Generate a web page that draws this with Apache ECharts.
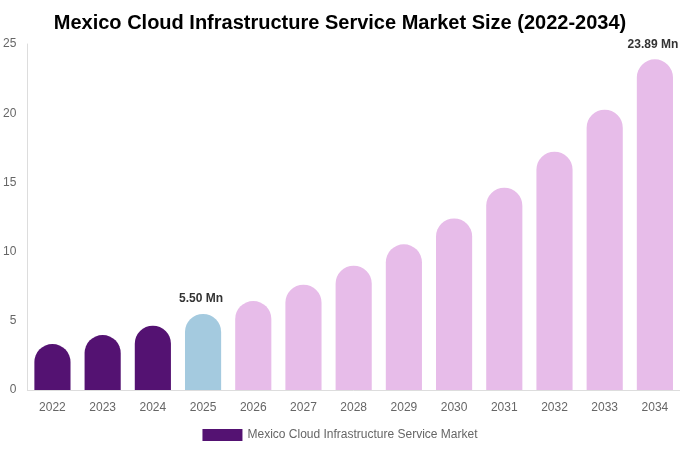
<!DOCTYPE html>
<html>
<head>
<meta charset="utf-8">
<script src="https://cdn.jsdelivr.net/npm/echarts@6/dist/echarts.min.js"></script>
<style>html,body{margin:0;padding:0;background:#fff;}#c{width:680px;height:450px;}</style>
</head>
<body>
<div id="c"></div>
<script>
const categories = ['2022','2023','2024','2025','2026','2027','2028','2029','2030','2031','2032','2033','2034'];
const marketValues = [3.32, 3.97, 4.65, 5.50, 6.43, 7.61, 8.98, 10.53, 12.40, 14.62, 17.22, 20.25, 23.89];
const yTicks = [0, 5, 10, 15, 20, 25];
const seriesName = 'Mexico Cloud Infrastructure Service Market';
const labeledYears = ['2025', '2034'];

const colorHist = '#541272';
const colorBase = '#a4cadf';
const colorFcst = '#e7bce9';

function barColor(year) {
  const y = parseInt(year, 10);
  if (y < 2025) return colorHist;
  if (y === 2025) return colorBase;
  return colorFcst;
}

const data = categories.map((c, i) => ({
  value: marketValues[i],
  itemStyle: { color: barColor(c) },
  label: { show: labeledYears.includes(c) }
}));

const chart = echarts.init(document.getElementById('c'));
chart.setOption({
  animation: false,
  title: {
    text: 'Mexico Cloud Infrastructure Service Market Size (2022-2034)',
    left: 'center',
    top: 8,
    textStyle: { fontFamily: 'Liberation Sans, Arial, sans-serif', fontSize: 20, fontWeight: 'bold', color: '#000' }
  },
  grid: { left: 27, right: 0, top: 44, bottom: 60, containLabel: false },
  legend: {
    bottom: 4,
    left: 'center',
    itemWidth: 40,
    itemHeight: 12,
    icon: 'rect',
    itemGap: 6,
    textStyle: { fontFamily: 'Liberation Sans, Arial, sans-serif', fontSize: 12, color: '#666' },
    data: [{ name: seriesName, itemStyle: { color: colorHist } }]
  },
  xAxis: {
    type: 'category',
    data: categories,
    axisLine: { lineStyle: { color: '#ddd' } },
    axisTick: { show: false },
    axisLabel: { color: '#666', fontSize: 12, margin: 12, fontFamily: 'Liberation Sans, Arial, sans-serif' }
  },
  yAxis: {
    type: 'value',
    min: yTicks[0],
    max: yTicks[yTicks.length - 1],
    interval: yTicks[1] - yTicks[0],
    axisLine: { show: true, lineStyle: { color: '#ddd' } },
    axisTick: { show: false },
    splitLine: { show: false },
    axisLabel: { color: '#666', fontSize: 12, margin: 11, fontFamily: 'Liberation Sans, Arial, sans-serif' }
  },
  series: [{
    name: seriesName,
    type: 'bar',
    barWidth: '72%',
    data: data,
    itemStyle: { borderRadius: [18, 18, 0, 0] },
    label: {
      show: false,
      position: 'top',
      distance: 9,
      offset: [-2, 0],
      formatter: p => p.value.toFixed(2) + ' Mn',
      fontFamily: 'Liberation Sans, Arial, sans-serif',
      fontSize: 12,
      fontWeight: 'bold',
      color: '#333'
    }
  }]
});
</script>
</body>
</html>
